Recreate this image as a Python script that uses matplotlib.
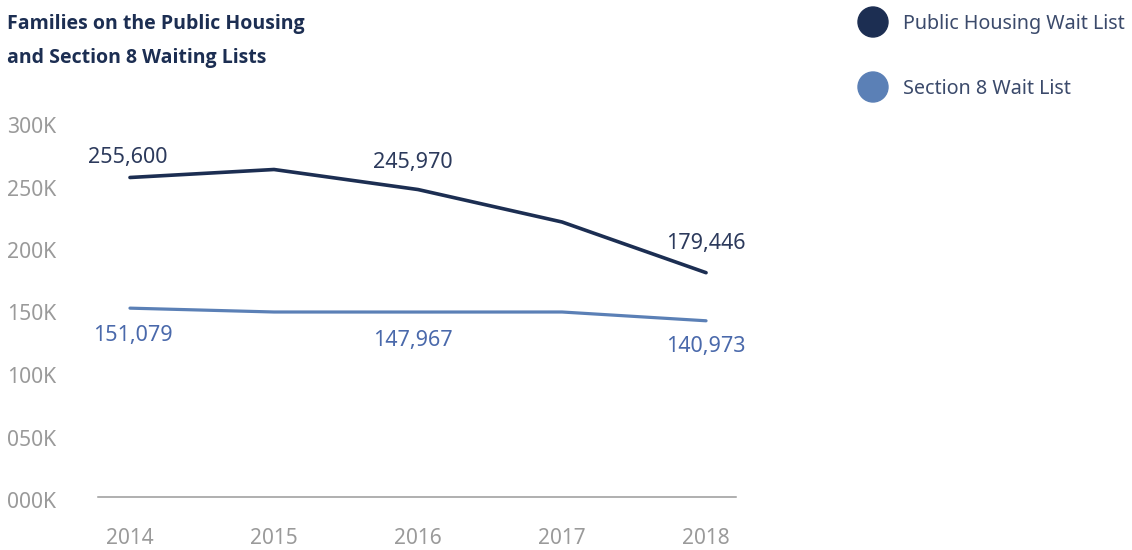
import matplotlib.pyplot as plt
from matplotlib.patches import Circle
from matplotlib.transforms import blended_transform_factory

years = [2014, 2015, 2016, 2017, 2018]
public_housing = [255600, 262000, 245970, 220000, 179446]
section8 = [151079, 148000, 147967, 148000, 140973]
y_ticks = [0, 50000, 100000, 150000, 200000, 250000, 300000]
y_tick_labels = ["000K", "050K", "100K", "150K", "200K", "250K", "300K"]
labeled = [0, 2, 4]

ph_color = "#1c2e52"
s8_color = "#5b80b6"
ph_text = "#2c3a5c"
s8_text = "#4a69ab"
grey = "#9a9a9a"

plt.rcParams['font.family'] = ['Noto Sans', 'DejaVu Sans']

fig = plt.figure(figsize=(11.32, 5.5), dpi=100)
ax = fig.add_axes([98 / 1132, 53 / 550, 638 / 1132, 375 / 550])
ax.set_xlim(2013.778, 2018.208)
ax.set_ylim(0, 300000)

ax.plot(years, public_housing, color=ph_color, lw=2.6, solid_capstyle='round')
ax.plot(years, section8, color=s8_color, lw=2.3, solid_capstyle='round')

# data labels: (dx, dy) in pixels
ph_off = {0: (-2, 20), 2: (-5, 27), 4: (0, 29)}
s8_off = {0: (3, -27), 2: (-5, -28), 4: (0, -26)}
px = 0.72
for i in labeled:
    dx, dy = ph_off[i]
    ax.annotate(f"{public_housing[i]:,}", (years[i], public_housing[i]),
                xytext=(dx * px, dy * px), textcoords='offset points',
                ha='center', va='center', fontsize=15.5, color=ph_text)
    dx, dy = s8_off[i]
    ax.annotate(f"{section8[i]:,}", (years[i], section8[i]),
                xytext=(dx * px, dy * px), textcoords='offset points',
                ha='center', va='center', fontsize=15.5, color=s8_text)

for s in ['top', 'right', 'left']:
    ax.spines[s].set_visible(False)
ax.spines['bottom'].set_color(grey)
ax.spines['bottom'].set_linewidth(1.1)
ax.set_yticks([])
ax.set_xticks(years)
ax.set_xticklabels([str(y) for y in years], fontsize=15, color=grey)
ax.tick_params(axis='x', length=0, pad=22)

tr = blended_transform_factory(fig.transFigure, ax.transData)
for v, lab in zip(y_ticks, y_tick_labels):
    ax.text(7 / 1132, v - 4400, lab, transform=tr, ha='left', va='center',
            fontsize=15.2, color=grey)

title_font = ['Open Sans', 'DejaVu Sans']
fig.text(7 / 1132, 1 - 24 / 550, "Families on the Public Housing", fontsize=14,
         fontweight='bold', family=title_font, color=ph_color, ha='left', va='center')
fig.text(7 / 1132, 1 - 58 / 550, "and Section 8 Waiting Lists", fontsize=14,
         fontweight='bold', family=title_font, color=ph_color, ha='left', va='center')

# legend
for yy, col, lab in [(22, ph_color, "Public Housing Wait List"),
                     (87, s8_color, "Section 8 Wait List")]:
    fig.patches.append(Circle((873, 550 - yy), 15, transform=None,
                              color=col, zorder=3))
    fig.text(903 / 1132, 1 - (yy + 2) / 550, lab, fontsize=14.2, color="#3b4a6b",
             ha='left', va='center')

fig.savefig("out.png", dpi=100)
